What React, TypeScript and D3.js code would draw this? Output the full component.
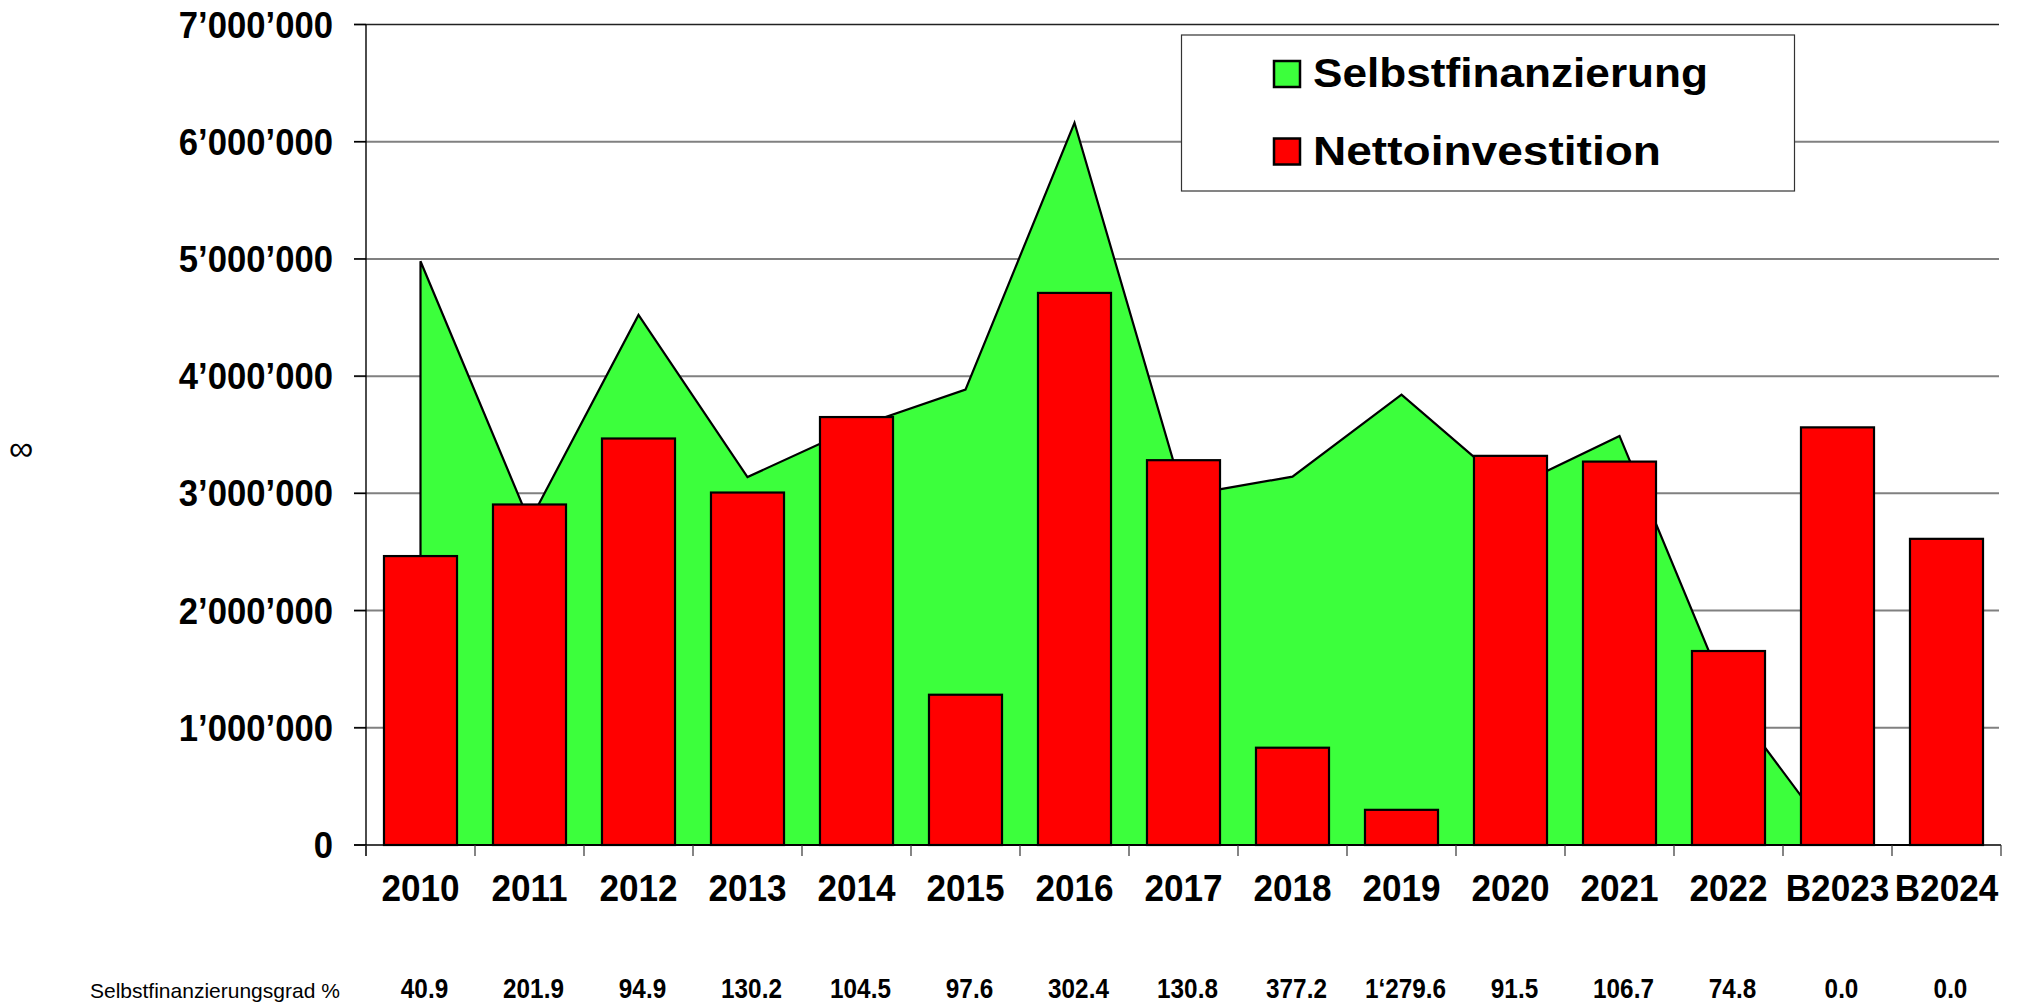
import React from "react";
import * as d3 from "d3";

const categories = ["2010","2011","2012","2013","2014","2015","2016","2017","2018","2019","2020","2021","2022","B2023","B2024"];
const nettoinvestition = [2465000, 2905000, 3468000, 3007000, 3651000, 1282000, 4710000, 3283000, 830000, 300000, 3320000, 3271000, 1655000, 3563000, 2612000];
const selbstfinanzierung = [4980000, 2758000, 4522000, 3139000, 3566000, 3885000, 6162000, 2980000, 3143000, 3843000, 3042000, 3490000, 1250000, 0, 0];
const gradLabels = ["40.9","201.9","94.9","130.2","104.5","97.6","302.4","130.8","377.2","1\u2018279.6","91.5","106.7","74.8","0.0","0.0"];
const yTicks = [0, 1000000, 2000000, 3000000, 4000000, 5000000, 6000000, 7000000];
const seriesNames = ["Selbstfinanzierung", "Nettoinvestition"];

const W = 2022, H = 1006;
const FONT = "'Liberation Sans', Arial, Helvetica, sans-serif";
const GREEN = "#3cff3c";
const RED = "#ff0000";

const locale = d3.formatLocale({ decimal: ".", thousands: "\u2019", grouping: [3], currency: ["", ""] });
const fmt = locale.format(",.0f");

export default function App() {
  const x = d3.scaleBand<string>().domain(categories).range([366, 2001]).paddingInner(0).paddingOuter(0);
  const y = d3.scaleLinear().domain([0, 7000000]).range([845, 24.5]);
  const bw = x.bandwidth();
  const barW = bw * 0.67;
  const cx = (i: number) => (x(categories[i]) as number) + bw / 2;

  const area = d3.area<number>()
    .x((_, i) => cx(i))
    .y0(y(0))
    .y1((d) => y(d))
    .curve(d3.curveLinear);

  const boundaries = categories.map((c) => x(c) as number).concat([x.range()[1]]);

  return (
    <svg width={W} height={H} style={{ position: "absolute", left: 0, top: 0, display: "block", background: "#fff" }} fontFamily={FONT}>
      <rect x={0} y={0} width={W} height={H} fill="#fff" />
      {/* gridlines */}
      {yTicks.filter((t) => t > 0).map((t) => (
        <line key={"g" + t} x1={354} x2={1999} y1={y(t)} y2={y(t)}
          stroke={t === 7000000 ? "#222" : "#808080"} strokeWidth={t === 7000000 ? 1.4 : 2} />
      ))}
      {/* y tick labels */}
      {yTicks.map((t) => (
        <text key={"yl" + t} transform={`translate(333,${y(t) + 13}) scale(0.95,1)`} textAnchor="end" fontSize={36.5} fontWeight="bold" fill="#000">
          {fmt(t)}
        </text>
      ))}
      {/* area */}
      <path d={area(selbstfinanzierung) || ""} fill={GREEN} stroke="#000" strokeWidth={2.2} strokeLinejoin="miter" />
      {/* axes */}
      <line x1={354} x2={2001} y1={y(0)} y2={y(0)} stroke="#000" strokeWidth={1.4} />
      <line x1={366} x2={366} y1={y(7000000)} y2={856} stroke="#000" strokeWidth={1.4} />
      {yTicks.map((t) => (
        <line key={"yt" + t} x1={354} x2={366} y1={y(t)} y2={y(t)} stroke="#000" strokeWidth={1.4} />
      ))}
      {boundaries.map((b, i) => (
        <line key={"xt" + i} x1={b} x2={b} y1={y(0)} y2={856} stroke="#333" strokeWidth={1.2} />
      ))}
      {/* bars */}
      {nettoinvestition.map((v, i) => (
        <rect key={"b" + i} x={cx(i) - barW / 2} y={y(v)} width={barW} height={y(0) - y(v)}
          fill={RED} stroke="#000" strokeWidth={2.2} />
      ))}
      {/* x labels */}
      {categories.map((c, i) => (
        <text key={"xl" + c} transform={`translate(${cx(i)},901) scale(0.95,1)`} textAnchor="middle" fontSize={37} fontWeight="bold" fill="#000">{c}</text>
      ))}
      {/* bottom row */}
      <text x={90} y={998} fontSize={21} fill="#000">Selbstfinanzierungsgrad %</text>
      {gradLabels.map((g, i) => (
        <text key={"gl" + i} transform={`translate(${cx(i) + 4},998) scale(0.9,1)`} textAnchor="middle" fontSize={27} fontWeight="bold" fill="#000">{g}</text>
      ))}
      {/* left symbol */}
      <text x={21} y={460} textAnchor="middle" fontSize={34} fill="#000">{"\u221E"}</text>
      {/* legend */}
      <rect x={1181.5} y={35} width={613} height={156} fill="#fff" stroke="#333" strokeWidth={1.2} />
      <rect x={1274} y={61} width={26} height={26} fill={GREEN} stroke="#000" strokeWidth={2.5} />
      <rect x={1274} y={138.5} width={26} height={26} fill={RED} stroke="#000" strokeWidth={2.5} />
      <text x={1313} y={87} fontSize={41} fontWeight="bold" fill="#000" textLength={395} lengthAdjust="spacingAndGlyphs">{seriesNames[0]}</text>
      <text x={1313} y={164.5} fontSize={41} fontWeight="bold" fill="#000" textLength={348} lengthAdjust="spacingAndGlyphs">{seriesNames[1]}</text>
    </svg>
  );
}
